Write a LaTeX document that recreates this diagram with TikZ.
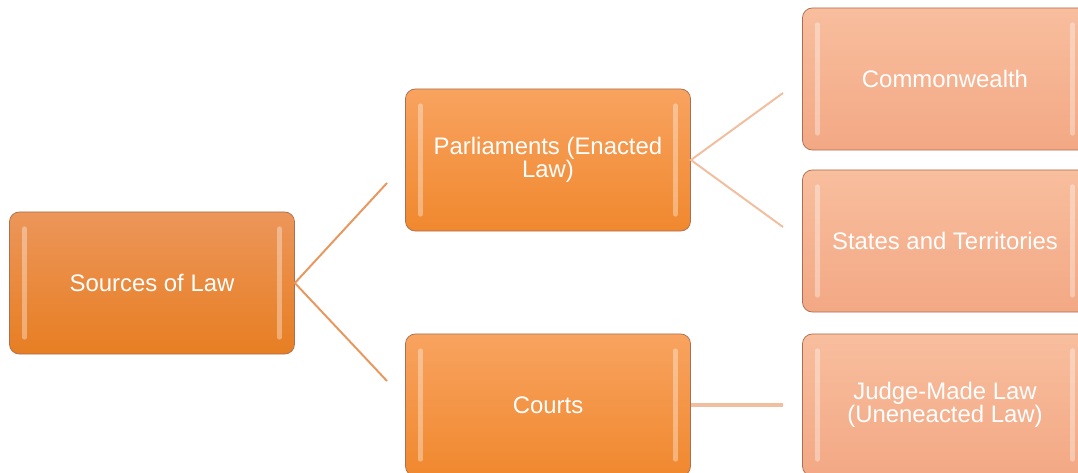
\documentclass[tikz,border=0pt]{standalone}
\usepackage{fontspec}
\setmainfont{Liberation Sans}

\definecolor{srctop}{RGB}{236,150,90}
\definecolor{srcbot}{RGB}{231,126,34}
\definecolor{midtop}{RGB}{248,163,96}
\definecolor{midbot}{RGB}{240,136,46}
\definecolor{leaftop}{RGB}{248,190,158}
\definecolor{leafbot}{RGB}{243,168,132}
\definecolor{edge}{RGB}{170,110,80}
\definecolor{srcline}{RGB}{232,152,94}
\definecolor{leafline}{RGB}{242,190,160}

\tikzset{
    box/.style={rounded corners=7pt, minimum width=7.125cm, minimum height=3.55cm,
        draw=edge, line width=0.5pt, text=white, align=center,
        font=\fontsize{17}{16.5}\selectfont},
    srcbox/.style={box, top color=srctop, bottom color=srcbot},
    midbox/.style={box, top color=midtop, bottom color=midbot},
    leafbox/.style={box, top color=leaftop, bottom color=leafbot},
    shine/.style={line width=3pt, white, opacity=0.35, line cap=round},
    srclink/.style={srcline, line width=1.4pt},
    leaflink/.style={leafline, line width=1.4pt}
}

\begin{document}
\begin{tikzpicture}[x=0.025cm, y=-0.025cm]
            \useasboundingbox (0,0) rectangle (1078,473);
            \clip (0,0) rectangle (1078,473);

            % First level
            \node[srcbox] (src) at (152,283) {Sources of Law};

            % Second level
            \node[midbox] (parl) at (548,160) {Parliaments (Enacted\\Law)};
            \node[midbox] (courts) at (548,405) {Courts};

            % Third level
            \node[leafbox] (cw) at (945,79) {Commonwealth};
            \node[leafbox] (states) at (945,241) {States and Territories};
            \node[leafbox] (judge) at (945,405) {Judge-Made Law\\(Uneneacted Law)};

            % bevel highlights
            \foreach \b in {src,parl,courts,cw,states,judge} {
                \draw[shine] ([xshift=11pt,yshift=-12pt]\b.north west) -- ([xshift=11pt,yshift=12pt]\b.south west);
                \draw[shine] ([xshift=-11pt,yshift=-12pt]\b.north east) -- ([xshift=-11pt,yshift=12pt]\b.south east);
            }

            % free ends of the links
            \coordinate (srcup) at (387,183);
            \coordinate (srcdown) at (387,381);
            \coordinate (parlup) at (783,93);
            \coordinate (parldown) at (783,227);
            \coordinate (courtend) at (783,405);

            \draw[srclink] (srcup) -- (src.east) -- (srcdown);
            \draw[leaflink] (parlup) -- (parl.east) -- (parldown);
            \draw[black!55, line width=3pt] (courts.east) -- (courtend);
            \draw[leafline, line width=2.3pt] (courts.east) -- (courtend);

        \end{tikzpicture}
\end{document}
